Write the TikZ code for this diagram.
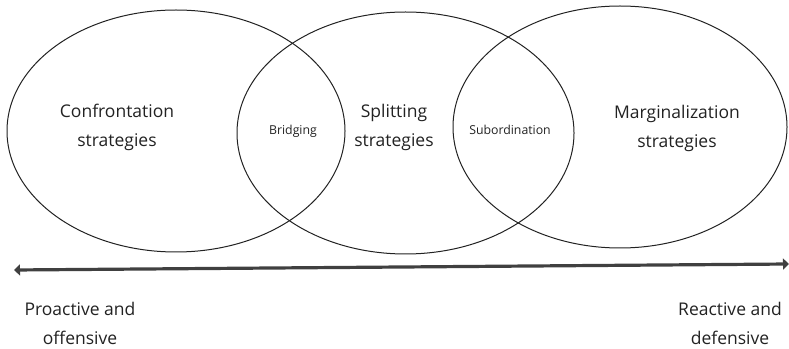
\documentclass[tikz,border=0pt]{standalone}
\usepackage{fontspec}
\setmainfont{Open Sans}
\usepackage{tikz}
\usetikzlibrary{shapes.geometric, arrows.meta}
\definecolor{axisgray}{HTML}{404040}
\definecolor{inkgray}{HTML}{222222}

\begin{document}
\begin{tikzpicture}[x=1pt, y=1pt,
    ring/.style={draw=inkgray, ellipse, line width=1pt, inner sep=0pt},
    bigtext/.style={align=center, text=inkgray, font=\fontsize{17.5}{29}\selectfont},
    smalltext/.style={text=inkgray, font=\fontsize{12.3}{14}\selectfont}]
    \useasboundingbox (0,0) rectangle (789,348);
    \node[ring, minimum width=338pt, minimum height=242pt] (conf) at (176,217) {};
    \node[ring, minimum width=337pt, minimum height=242pt] (split) at (405.5,215) {};
    \node[ring, minimum width=334pt, minimum height=242pt] (marg) at (620,221) {};

    \node[bigtext] (conft) at (117,220.5) {Confrontation\\strategies};
    \node[bigtext] (splitt) at (394,220.5) {Splitting\\strategies};
    \node[bigtext] (margt) at (677,220) {Marginalization\\strategies};
    \node[smalltext] (bridge) at (293,217) {Bridging};
    \node[smalltext] (subord) at (510,218) {Subordination};

    \coordinate (lend) at (14,78);
    \coordinate (rend) at (789,84);
    \draw[axisgray, line width=3.2pt, {Triangle[length=6pt,width=11pt]}-{Triangle[length=6pt,width=11pt]}] (lend) -- (rend);

    \node[bigtext] (pro) at (80,25) {Proactive and\\offensive};
    \node[bigtext] (re) at (730,25) {Reactive and\\defensive};
\end{tikzpicture}
\end{document}
